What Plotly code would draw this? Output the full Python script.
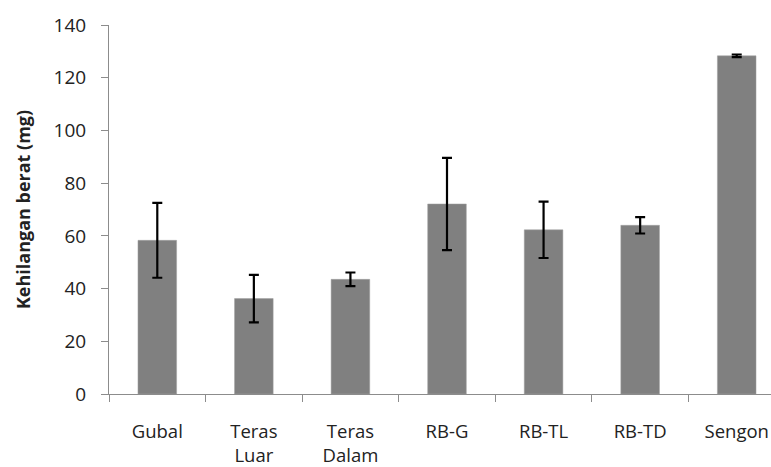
import plotly.graph_objects as go

categories = ["Gubal", "Teras<br>Luar", "Teras<br>Dalam", "RB-G", "RB-TL", "RB-TD", "Sengon"]
values = [58.3, 36.2, 43.5, 72.1, 62.3, 64.0, 128.3]
errors = [14.2, 9.0, 2.6, 17.5, 10.7, 3.1, 0.5]
y_ticks = [0, 20, 40, 60, 80, 100, 120, 140]

fig = go.Figure(go.Bar(
    x=categories, y=values,
    marker=dict(color="#808080", line=dict(color="#a0a0a0", width=0.5)),
    error_y=dict(type="data", array=errors, visible=True, color="#000000", thickness=2.2, width=5),
))

fig.update_layout(
    width=771, height=467,
    margin=dict(l=109, r=0, t=25, b=73),
    plot_bgcolor="white", paper_bgcolor="white",
    bargap=0.6, showlegend=False,
    font=dict(family="Open Sans, Liberation Sans, sans-serif", color="#222222"),
)
fig.update_xaxes(
    range=[-0.5, 6.355], tickson="boundaries", ticks="outside", ticklen=7, tickcolor="#8c8c8c",
    showline=True, linecolor="#8c8c8c", linewidth=1, showgrid=False,
    tickfont=dict(size=18.5), ticklabelstandoff=21,
)
fig.update_yaxes(
    range=[0, 140], tickvals=y_ticks, ticks="outside", ticklen=7, tickcolor="#8c8c8c",
    showline=True, linecolor="#8c8c8c", linewidth=1, showgrid=False, zeroline=False,
    tickfont=dict(size=19), ticklabelstandoff=11,
    title=dict(text="<b>Kehilangan berat (mg)</b>", font=dict(size=18), standoff=18),
)

fig.write_html(
    "out.html",
    config={"displayModeBar": False},
    post_script="document.body.style.margin='0';document.body.style.overflow='hidden';",
)
